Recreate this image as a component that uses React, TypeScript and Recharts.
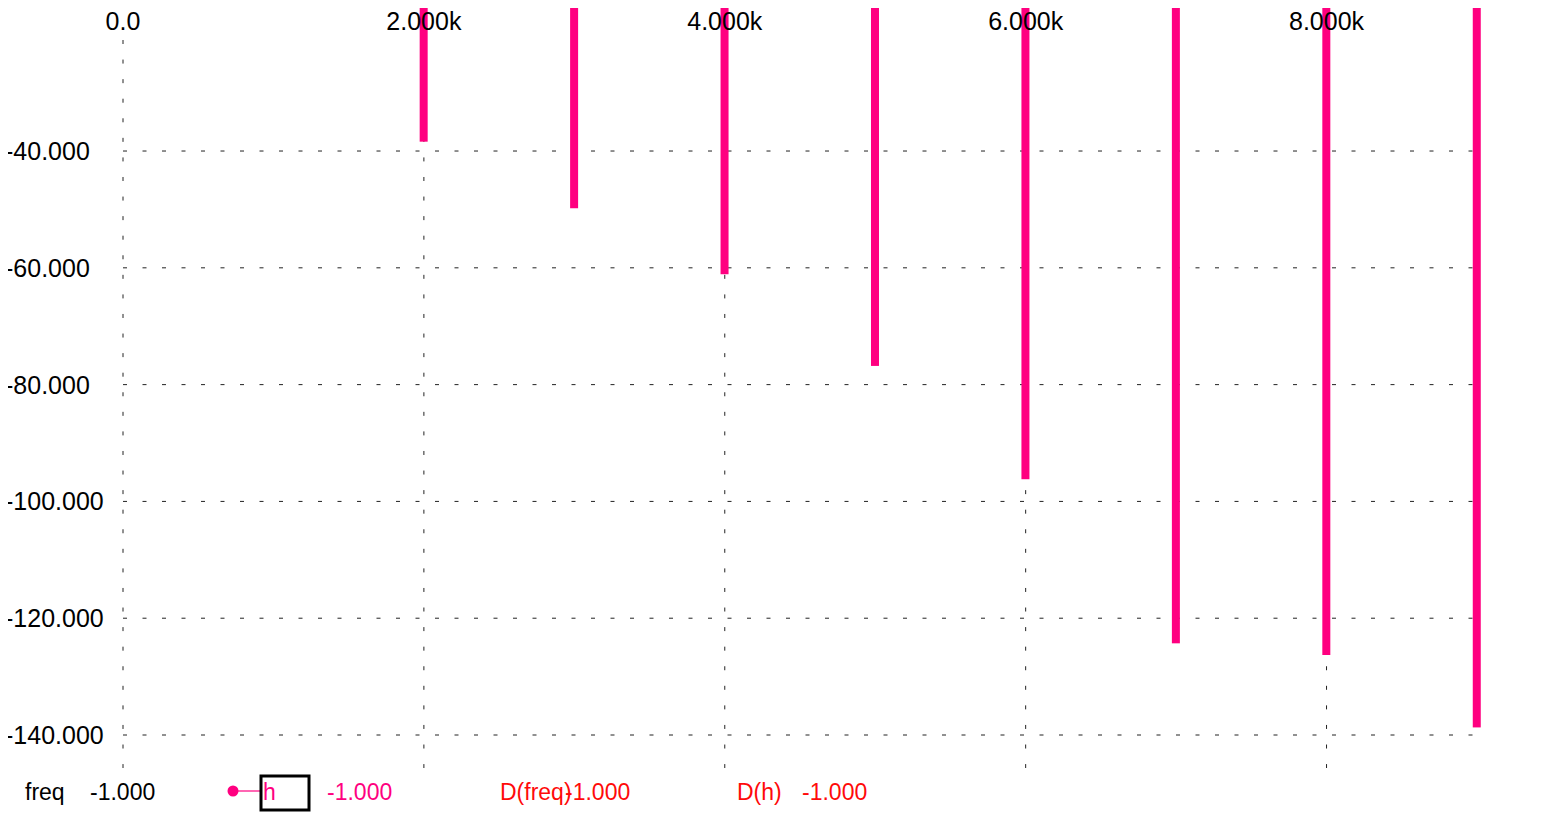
import { ComposedChart, Bar, XAxis, YAxis, CartesianGrid, ReferenceLine } from "recharts";

const freqs = [2000, 3000, 4000, 5000, 6000, 7000, 8000, 9000];
const hValues = [-38.4, -49.8, -61.1, -76.8, -96.2, -124.3, -126.3, -138.7];
const xTicks = [0, 2000, 4000, 6000, 8000];
const yTicks = [-140, -120, -100, -80, -60, -40];

const data = freqs.map((f, i) => ({ freq: f, h: hValues[i] }));

const Y_MIN = -145.65;
const Y_MAX = -14.14;
const VGRID_TOP = -20.99; // first grid line starts just under the freq labels

const FONT = "'Liberation Sans', Arial, sans-serif";
const PINK = "#ff0080";
const RED = "#ff0a0a";

const fmtX = (v: number) => (v === 0 ? "0.0" : (v / 1000).toFixed(3) + "k");
const fmtY = (v: number) => v.toFixed(3);

function XTick({ x, y, payload }: any) {
  return (
    <text x={x} y={y} dy="0.71em" textAnchor="middle" fontSize={25} fontFamily={FONT} fill="#000">
      {fmtX(payload.value)}
    </text>
  );
}

function YTick({ y, payload }: any) {
  return (
    <text x={5} y={y} dy="0.36em" textAnchor="start" fontSize={25} fontFamily={FONT} fill="#000">
      {fmtY(payload.value)}
    </text>
  );
}

// stems run from the top edge of the chart down to the value end that recharts computed
const renderStem = (p: any) => {
  const y1 = Number(p.y);
  const y2 = Number(p.y) + Number(p.height);
  const bottom = Math.max(y1, y2);
  return <rect x={p.x} y={0} width={p.width} height={Math.max(0, bottom)} fill={PINK} />;
};

// bottom status row (cursor readout), not a recharts legend
function Readout() {
  const t = { fontSize: 23, fontFamily: FONT };
  return (
    <svg width={1558} height={820} style={{ position: "absolute", left: 0, top: 0, pointerEvents: "none" }}>
      <text x={25} y={800} fill="#000" {...t}>freq</text>
      <text x={90} y={800} fill="#000" {...t}>-1.000</text>
      <line x1={233} y1={791} x2={261} y2={791} stroke="#ff66b3" strokeWidth={2} />
      <circle cx={233} cy={791} r={5.5} fill={PINK} />
      <rect x={261} y={776} width={48} height={34} fill="none" stroke="#000" strokeWidth={3} />
      <text x={263} y={800} fill={PINK} {...t}>h</text>
      <text x={327} y={800} fill={PINK} {...t}>-1.000</text>
      <text x={500} y={800} fill={RED} {...t}>D(freq)</text>
      <text x={565} y={800} fill={RED} {...t}>-1.000</text>
      <text x={737} y={800} fill={RED} {...t}>D(h)</text>
      <text x={802} y={800} fill={RED} {...t}>-1.000</text>
    </svg>
  );
}

export default function App() {
  return (
    <div style={{ position: "relative", margin: -8, width: 1558, height: 820, overflow: "hidden", background: "#fff" }}>
      <ComposedChart
        width={1558}
        height={820}
        data={data}
        margin={{ top: 0, right: 76.5, left: 0, bottom: 52 }}
      >
        <CartesianGrid
          vertical={false}
          horizontalValues={yTicks}
          stroke="#222"
          strokeDasharray="4 15.5"
        />
        {/* lines under the stems; the 0 line is drawn apart so it stays clear of its label */}
        <CartesianGrid
          horizontal={false}
          verticalValues={xTicks.filter((t) => t > 0)}
          stroke="#222"
          strokeDasharray="4 15.57"
          strokeDashoffset={-0.86}
        />
        <ReferenceLine
          segment={[{ x: xTicks[0], y: VGRID_TOP }, { x: xTicks[0], y: Y_MIN }]}
          stroke="#222"
          strokeDasharray="4 15.57"
        />
        <XAxis
          dataKey="freq"
          type="number"
          orientation="top"
          mirror
          domain={[0, 9030]}
          ticks={xTicks}
          tick={<XTick />}
          tickLine={false}
          axisLine={false}
          tickSize={0}
          tickMargin={12}
        />
        <YAxis
          type="number"
          width={123}
          domain={[Y_MIN, Y_MAX]}
          ticks={yTicks}
          tick={<YTick />}
          tickLine={false}
          axisLine={false}
        />
        <Bar dataKey="h" fill={PINK} barSize={8} shape={renderStem} isAnimationActive={false} />
      </ComposedChart>
      <Readout />
    </div>
  );
}
